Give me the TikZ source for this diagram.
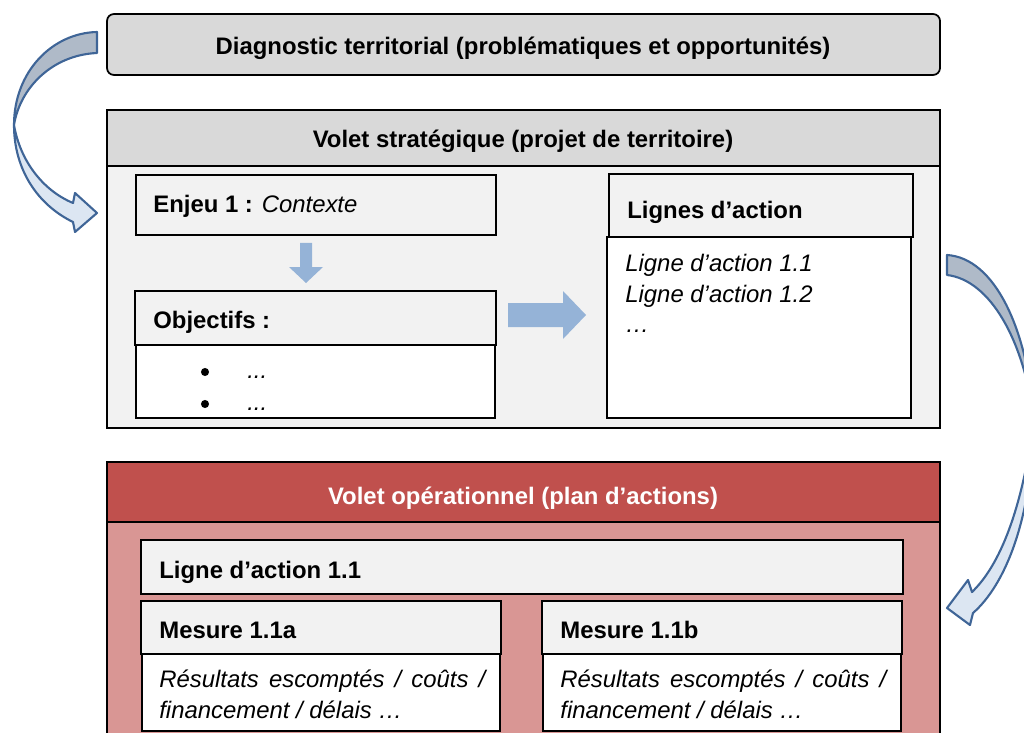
\documentclass[tikz,border=0pt]{standalone}
\usepackage{fontspec}
\setmainfont{Liberation Sans}
\definecolor{hdgray}{HTML}{D9D9D9}
\definecolor{palegray}{HTML}{F2F2F2}
\definecolor{opred}{HTML}{C0504D}
\definecolor{oppink}{HTML}{D99694}
\definecolor{arrowblue}{HTML}{95B3D7}
\definecolor{curveline}{HTML}{3F6597}
\definecolor{curveback}{HTML}{AFBAC8}
\definecolor{curvefront}{HTML}{DCE6F2}
\tikzset{
  outerbox/.style={draw=black, line width=1pt},
  headbox/.style={draw=black, line width=1.5pt, fill=palegray},
  textbox/.style={draw=black, line width=.6pt, fill=white},
  blockarrow/.style={fill=arrowblue},
  curvearrow/.style={draw=curveline, line width=1.2pt, line join=round},
  title/.style={font=\fontsize{13.6}{16}\selectfont\bfseries},
}
\begin{document}
\begin{tikzpicture}[x=0.02cm,y=-0.02cm,font=\fontsize{13.6}{16}\selectfont,every node/.style={inner sep=0}]
\useasboundingbox (0,0) rectangle (1024,733);
\clip (0,0) rectangle (1024,733);
% diagnostic
\draw[outerbox,fill=hdgray,rounded corners=4pt](107,14)rectangle(940,75);
\node[title,anchor=base](diag)at(523,55){Diagnostic territorial (problématiques et opportunités)};
% volet strategique
\draw[outerbox,fill=palegray](107,110)rectangle(940,428);
\draw[outerbox,fill=hdgray](107,110)rectangle(940,166);
\node[title,anchor=base](strat)at(523,148){Volet stratégique (projet de territoire)};
\draw[headbox](136,175)rectangle(496,235);
\node[anchor=base west](enjeu)at(153,213){\textbf{Enjeu 1 :} \textit{Contexte}};
\fill[blockarrow](300,243)--(312,243)--(312,267)--(323,267)--(306,283)--(289,267)--(300,267)--cycle;
\draw[textbox](136,345)rectangle(495,418);
\draw[headbox](135,291)rectangle(496,345);
\node[title,anchor=base west](objectifs)at(153,328){Objectifs :};
\fill(205,372)circle(2.3pt) (205,404)circle(2.3pt);
\node[anchor=base west](obj1)at(247,378){\textit{...}};
\node[anchor=base west](obj2)at(247,410){\textit{...}};
\fill[blockarrow](508,303)--(563,303)--(563,291)--(586,315)--(563,339)--(563,327)--(508,327)--cycle;
\draw[textbox](607,237)rectangle(911,418);
\draw[headbox](609,174)rectangle(913,237);
\node[title,anchor=base west](lignes)at(627,218){Lignes d’action};
\node[anchor=base west](ligne1)at(625,272){\textit{Ligne d’action 1.1}};
\node[anchor=base west](ligne2)at(625,302){\textit{Ligne d’action 1.2}};
\node[anchor=base west](ligne3)at(625,332){\textit{…}};
% volet operationnel
\draw[outerbox,fill=oppink](107,462)rectangle(940,760);
\draw[outerbox,fill=opred](107,462)rectangle(940,522);
\node[title,text=white,anchor=base](oper)at(523,504){Volet opérationnel (plan d’actions)};
\draw[headbox](141,540)rectangle(903,594);
\node[title,anchor=base west](ligneop)at(159,578){Ligne d’action 1.1};
\foreach \x/\n in {141/a,542/b}{
  \draw[textbox](\x+1,654)rectangle(\x+359,731);
  \draw[headbox](\x,601)rectangle(\x+360,654);
  \node[title,anchor=base west](mesure\n)at(\x+18,638){Mesure 1.1\n};
  \node[anchor=base west](res\n)at(\x+18,687){\itshape\makebox[6.52cm][s]{Résultats escomptés / coûts /}};
  \node[anchor=base west](fin\n)at(\x+18,718){\itshape financement / délais …};
}
% curved arrows
\draw[curvearrow,fill=curveback](97,32)..controls(52,33)and(14,72)..(14,125)..controls(20,88)and(52,55)..(97,53)--cycle;
\draw[curvearrow,fill=curvefront](14,125)..controls(14,170)and(38,205)..(73,222)--(75,232)--(97,213)--(75,193)--(73,203)..controls(42,190)and(20,160)..(14,125)--cycle;
\draw[curvearrow,fill=curveback](947,255)..controls(995,258)and(1028,330)..(1034,420)..controls(1024,340)and(990,280)..(947,275)--cycle;
\draw[curvearrow,fill=curvefront](1034,420)..controls(1032,520)and(1005,585)..(973,613)--(970,625)--(947,608)--(968,580)--(972,592)..controls(1000,565)and(1022,510)..(1034,420)--cycle;
\end{tikzpicture}
\end{document}
